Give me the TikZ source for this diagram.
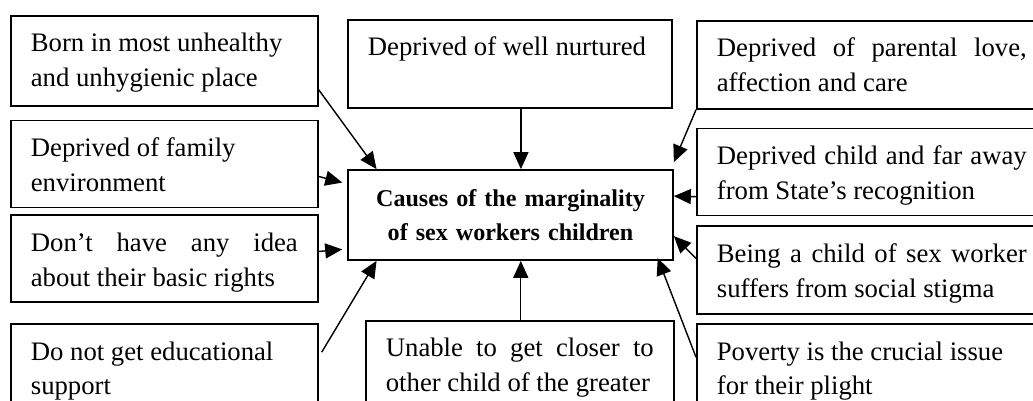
\documentclass[tikz,border=0pt]{standalone}
\usepackage{fontspec}
\setmainfont{Liberation Serif}
\usetikzlibrary{positioning, calc, arrows.meta}

\begin{document}
\begin{tikzpicture}[x=0.02cm, y=-0.02cm, every node/.style={font=\fontsize{15.2}{19.8}\selectfont}]
  \tikzstyle{cause}=[rectangle, draw, line width=1pt, anchor=north west, align=justify, inner xsep=0.40cm, inner ysep=0.36cm, text height=0.36cm]
  \tikzstyle{link}=[-{Triangle[length=0.34cm, width=0.3cm]}, line width=0.8pt]
  \useasboundingbox (0,0) rectangle (1033,401);
  \clip (0,0) rectangle (1033,401);
  % centre box
  \node[rectangle, draw, line width=1pt, minimum width=6.5cm, minimum height=1.8cm, text width=6cm, align=center, font=\fontsize{13.7}{19.2}\selectfont\bfseries] (marg) at (510.5,215) {Causes of the marginality\\of sex workers children};
  % left column
  \node[cause, text width=5.34cm, text depth=0.72cm] (unhealthy) at (10,15) {Born in most unhealthy\\and unhygienic place};
  \node[cause, text width=5.34cm, text depth=0.66cm, below=0.26cm of unhealthy] (family) {Deprived of family\\environment};
  \node[cause, text width=5.34cm, text depth=0.66cm, below=0.12cm of family] (rights) {Don't have any idea\linebreak about their basic rights};
  \node[cause, text width=5.34cm, text depth=0.92cm, below=0.4cm of rights] (educ) {Do not get educational\\support};
  % top and bottom
  \node[cause, text width=5.68cm, text depth=0.68cm] (nurture) at (347,19) {Deprived of well nurtured};
  \node[cause, text width=5.36cm, text depth=0.92cm] (closer) at (365,320) {\parfillskip=0pt Unable to get closer to\linebreak other child of the greater};
  % right column
  \node[cause, text width=6.20cm, text depth=0.68cm] (parental) at (696,20) {Deprived of parental love,\linebreak affection and care};
  \node[cause, text width=6.20cm, text depth=0.66cm, below=0.36cm of parental] (state) {Deprived child and far away\linebreak from State's recognition};
  \node[cause, text width=6.20cm, text depth=0.68cm, below=0.18cm of state] (stigma) {Being a child of sex worker\linebreak suffers from social stigma};
  \node[cause, text width=6.20cm, text depth=0.92cm, below=0.16cm of stigma] (poverty) {Poverty is the crucial issue\\for their plight};
  % arrows into the centre
  \draw[link] ($(unhealthy.south east)+(0,0.34cm)$) -- ($(marg.north west)!0.09!(marg.north east)$);
  \draw[link, shorten >=0.1cm] ($(family.south east)+(0,0.64cm)$) -- ($(marg.north west)!0.16!(marg.south west)$);
  \draw[link, shorten >=0.1cm] ($(rights.north east)+(0,-0.74cm)$) -- ($(marg.north west)!0.87!(marg.south west)$);
  \draw[link] ($(educ.north east)+(0.06cm,-0.58cm)$) -- ($(marg.south west)!0.09!(marg.south east)$);
  \coordinate (n1) at ($(nurture.south west)!0.534!(nurture.south east)$);
  \draw[link] (n1) -- (n1 |- marg.north);
  \coordinate (c1) at ($(closer.north west)!0.503!(closer.north east)$);
  \draw[link] (c1) -- (c1 |- marg.south);
  \draw[link] (parental.south west) -- ($(marg.north east)+(0,0.14cm)$);
  \draw[link] ($(state.north west)+(0,-1.38cm)$) -- ($(marg.north east)+(0,-0.54cm)$);
  \draw[link] ($(stigma.north west)+(0,-0.66cm)$) -- ($(marg.north east)+(0,-1.34cm)$);
  \draw[link, shorten >=-0.06cm] ($(poverty.north west)+(0,-0.68cm)$) -- ($(marg.south west)!0.954!(marg.south east)$);
\end{tikzpicture}
\end{document}
